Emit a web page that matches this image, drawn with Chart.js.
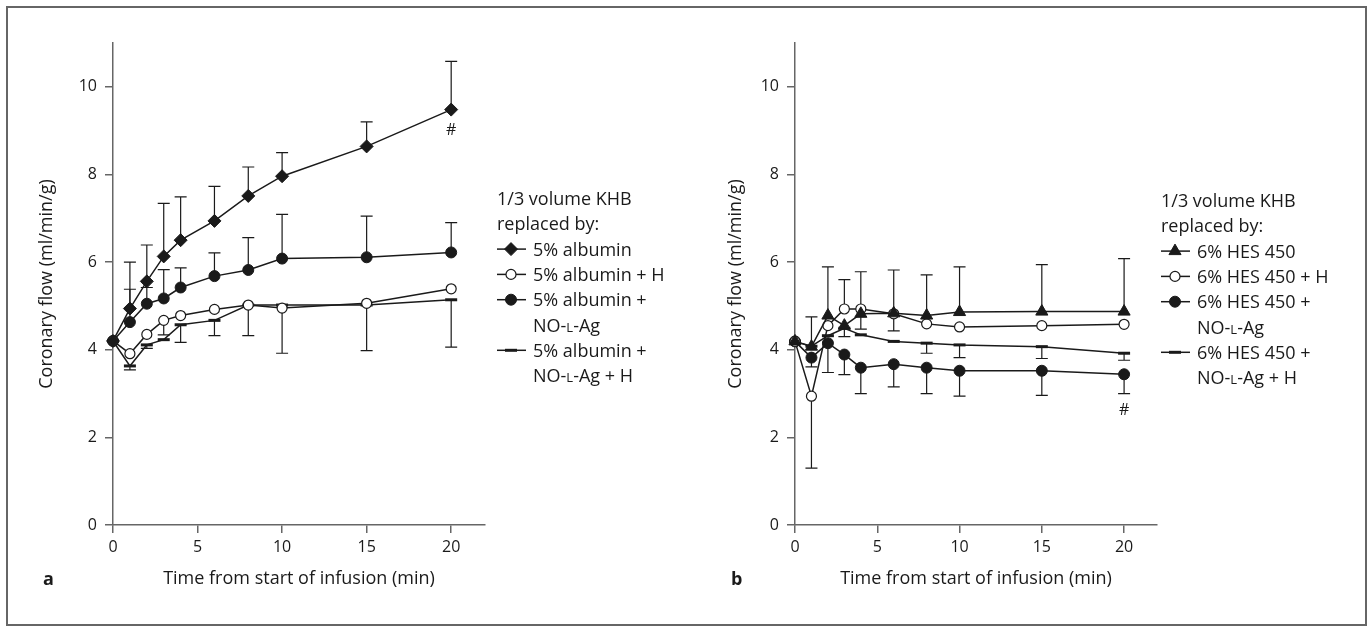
<!DOCTYPE html>
<html>
<head>
<meta charset="utf-8">
<script src="https://cdn.jsdelivr.net/npm/chart.js"></script>
<style>
  html, body { margin: 0; padding: 0; background: #fff; }
  #page { position: relative; width: 1367px; height: 626px; overflow: hidden; }
  #frame { position: absolute; left: 6px; top: 6px; width: 1361px; height: 620px; border: 2px solid #666; box-sizing: border-box; }
  .panel { position: absolute; top: 0; height: 626px; }
  #wrapA { left: 0; width: 690px; }
  #wrapB { left: 683px; width: 684px; }
</style>
</head>
<body>
<div id="page">
  <div id="frame"></div>
  <div class="panel" id="wrapA"><canvas id="chartA"></canvas></div>
  <div class="panel" id="wrapB"><canvas id="chartB"></canvas></div>
</div>
<script>
// x values (minutes) and axis ticks
const minutes = [0, 1, 2, 3, 4, 6, 8, 10, 15, 20];
const xTicks = [0, 5, 10, 15, 20];
const yTicks = [0, 2, 4, 6, 8, 10];

// Panel a: albumin groups (mean and end of the error bar)
const albumin      = [4.2, 4.94, 5.56, 6.13, 6.50, 6.94, 7.51, 7.96, 8.64, 9.48];
const albuminUp    = [null, 6.0, 6.39, 7.34, 7.49, 7.73, 8.17, 8.50, 9.20, 10.58];
const albuminH     = [4.2, 3.91, 4.35, 4.67, 4.78, 4.92, 5.02, 4.95, 5.06, 5.39];
const albuminHLow  = [null, null, null, 4.34, null, null, null, null, null, null];
const albuminNO    = [4.2, 4.63, 5.05, 5.17, 5.42, 5.68, 5.82, 6.08, 6.11, 6.22];
const albuminNOUp  = [null, 5.38, 5.42, 5.83, 5.87, 6.21, 6.56, 7.09, 7.05, 6.90];
const albuminNOH   = [4.2, 3.63, 4.11, 4.23, 4.57, 4.67, 5.02, 5.02, 5.02, 5.14];
const albuminNOHLow = [null, 3.54, 4.03, null, 4.17, 4.32, 4.32, 3.92, 3.98, 4.06];

// Panel b: HES 450 groups
const hes        = [4.19, 4.07, 4.78, 4.55, 4.82, 4.83, 4.78, 4.86, 4.87, 4.87];
const hesUp      = [null, 4.75, 5.89, null, 5.78, 5.82, 5.71, 5.89, 5.94, 6.08];
const hesH       = [4.19, 2.94, 4.55, 4.93, 4.93, 4.82, 4.59, 4.52, 4.55, 4.58];
const hesHUp     = [null, null, null, 5.60, null, null, null, null, null, null];
const hesHLow    = [null, 1.30, null, null, 4.47, 4.43, null, null, null, null];
const hesNO      = [4.19, 3.82, 4.15, 3.89, 3.59, 3.67, 3.59, 3.52, 3.52, 3.44];
const hesNOLow   = [null, 3.61, 3.48, 3.43, 3.00, 3.15, 3.00, 2.94, 2.96, 3.00];
const hesNOH     = [4.19, 4.08, 4.32, 4.49, 4.34, 4.19, 4.15, 4.11, 4.07, 3.92];
const hesNOHLow  = [null, null, null, 4.30, null, null, 3.92, 3.82, 3.80, 3.76];

// Legend texts ({..} = small caps)
const legendTitle = ["1/3 volume KHB", "replaced by:"];
const legendA = [["5% albumin"], ["5% albumin + H"], ["5% albumin +", "NO-{L}-Ag"], ["5% albumin +", "NO-{L}-Ag + H"]];
const legendB = [["6% HES 450"], ["6% HES 450 + H"], ["6% HES 450 +", "NO-{L}-Ag"], ["6% HES 450 +", "NO-{L}-Ag + H"]];

const INK = "#1a1a1a";
const AXIS = "#666";
const FONT = "'Open Sans', 'DejaVu Sans', sans-serif";

const styles = {
  diamond:  { pointStyle: "rectRot", pointRadius: 6.5, pointBackgroundColor: INK, pointBorderColor: INK, pointBorderWidth: 1 },
  open:     { pointStyle: "circle", pointRadius: 5, pointBackgroundColor: "#fff", pointBorderColor: INK, pointBorderWidth: 1.2 },
  filled:   { pointStyle: "circle", pointRadius: 5.5, pointBackgroundColor: INK, pointBorderColor: INK, pointBorderWidth: 1 },
  dash:     { pointStyle: "line", pointRadius: 6, pointBackgroundColor: INK, pointBorderColor: INK, pointBorderWidth: 3 },
  triangle: { pointStyle: "triangle", pointRadius: 7, pointBackgroundColor: INK, pointBorderColor: INK, pointBorderWidth: 1 },
};

function series(values, style, up, low) {
  return Object.assign({
    data: values.map((v, i) => ({ x: minutes[i], y: v })),
    borderColor: INK,
    borderWidth: 1.5,
    tension: 0,
    fill: false,
    clip: false,
    errUp: up || null,
    errLow: low || null,
  }, styles[style]);
}

// Draws the vertical error bars with caps, behind the markers
const errorBars = {
  id: "errorBars",
  beforeDatasetsDraw(chart) {
    const { ctx, scales: { x, y } } = chart;
    ctx.save();
    ctx.strokeStyle = INK;
    ctx.lineWidth = 1.2;
    chart.data.datasets.forEach((ds) => {
      [ds.errUp, ds.errLow].forEach((ends) => {
        if (!ends) return;
        ends.forEach((end, i) => {
          if (end == null) return;
          const px = x.getPixelForValue(minutes[i]);
          const p0 = y.getPixelForValue(ds.data[i].y);
          const p1 = y.getPixelForValue(end);
          ctx.beginPath();
          ctx.moveTo(px, p0);
          ctx.lineTo(px, p1);
          ctx.moveTo(px - 6, p1);
          ctx.lineTo(px + 6, p1);
          ctx.stroke();
        });
      });
    });
    ctx.restore();
  }
};

// text with small caps parts written as {L}
function drawRich(ctx, text, x, y) {
  const parts = text.split(/(\{[^}]*\})/);
  parts.forEach((p) => {
    if (!p) return;
    let t = p;
    if (p[0] === "{") {
      t = p.slice(1, -1).toUpperCase();
      ctx.font = "13px " + FONT;
    } else {
      ctx.font = "18px " + FONT;
    }
    ctx.fillText(t, x, y);
    x += ctx.measureText(t).width;
  });
}

function sideLegend(cfg) {
  return {
    id: "sideLegend",
    afterDraw(chart) {
      const ctx = chart.ctx;
      ctx.save();
      ctx.fillStyle = INK;
      ctx.textBaseline = "alphabetic";
      ctx.textAlign = "left";
      let row = 0;
      legendTitle.forEach((t) => {
        drawRich(ctx, t, cfg.x, cfg.top + row * cfg.step);
        row++;
      });
      cfg.labels.forEach((lines, di) => {
        const ds = chart.data.datasets[di];
        const base = cfg.top + row * cfg.step;
        const cy = base - 6.5;
        ctx.strokeStyle = INK;
        ctx.lineWidth = 1.5;
        ctx.beginPath();
        ctx.moveTo(cfg.x, cy);
        ctx.lineTo(cfg.x + 29, cy);
        ctx.stroke();
        ctx.fillStyle = ds.pointBackgroundColor;
        ctx.strokeStyle = ds.pointBorderColor;
        ctx.lineWidth = ds.pointBorderWidth;
        if (Chart.helpers && Chart.helpers.drawPoint) {
          Chart.helpers.drawPoint(ctx, { pointStyle: ds.pointStyle, radius: ds.pointRadius, borderWidth: ds.pointBorderWidth, rotation: 0 }, cfg.x + 14, cy);
        }
        ctx.fillStyle = INK;
        lines.forEach((t) => {
          drawRich(ctx, t, cfg.x + 36, cfg.top + row * cfg.step);
          row++;
        });
      });
      // panel letter
      ctx.font = "bold 18px " + FONT;
      ctx.textBaseline = "middle";
      ctx.fillText(cfg.letter, cfg.letterX, 580);
      // significance mark
      ctx.font = "16px " + FONT;
      ctx.textAlign = "center";
      ctx.fillText("#", chart.scales.x.getPixelForValue(cfg.hashAt[0]), chart.scales.y.getPixelForValue(cfg.hashAt[1]));
      ctx.restore();
    }
  };
}

function makeChart(id, datasets, o) {
  return new Chart(document.getElementById(id), {
    type: "line",
    data: { datasets: datasets },
    plugins: [errorBars, sideLegend(o.legend)],
    options: {
      responsive: true,
      maintainAspectRatio: false,
      animation: false,
      events: [],
      layout: { padding: { left: 0, top: 43, right: o.padRight, bottom: 0 } },
      plugins: { legend: { display: false }, tooltip: { enabled: false } },
      scales: {
        x: {
          type: "linear",
          min: 0,
          max: 22,
          afterBuildTicks: (s) => { s.ticks = xTicks.map((v) => ({ value: v })); },
          afterFit: (s) => { s.height = 101; },
          ticks: { autoSkip: false, maxRotation: 0, padding: 5, color: INK, font: { family: FONT, size: 16 } },
          grid: { drawOnChartArea: false, drawTicks: true, tickLength: 8, color: AXIS, lineWidth: 1.5 },
          border: { display: true, color: AXIS, width: 1.5 },
          title: { display: true, text: "Time from start of infusion (min)", color: INK, font: { family: FONT, size: 18 }, padding: { top: 0, bottom: 36 } },
        },
        y: {
          min: 0,
          max: 11,
          afterBuildTicks: (s) => { s.ticks = yTicks.map((v) => ({ value: v })); },
          afterFit: (s) => { s.width = o.axisLeft; },
          ticks: { padding: 8, color: INK, font: { family: FONT, size: 16 } },
          grid: { drawOnChartArea: false, drawTicks: true, tickLength: 8, color: AXIS, lineWidth: 1.5 },
          border: { display: true, color: AXIS, width: 1.5 },
          title: { display: true, text: "Coronary flow (ml/min/g)", color: INK, font: { family: FONT, size: 18 }, padding: { top: o.yTitlePad, bottom: 0 } },
        },
      },
    },
  });
}

makeChart("chartA", [
  series(albumin, "diamond", albuminUp),
  series(albuminH, "open", null, albuminHLow),
  series(albuminNO, "filled", albuminNOUp),
  series(albuminNOH, "dash", null, albuminNOHLow),
], {
  padRight: 205, axisLeft: 113, yTitlePad: 36,
  legend: { x: 497, top: 205, step: 25.3, labels: legendA, letter: "a", letterX: 43, hashAt: [20, 9.0] },
});

makeChart("chartB", [
  series(hes, "triangle", hesUp),
  series(hesH, "open", hesHUp, hesHLow),
  series(hesNO, "filled", null, hesNOLow),
  series(hesNOH, "dash", null, hesNOHLow),
], {
  padRight: 210, axisLeft: 112, yTitlePad: 42,
  legend: { x: 478, top: 207, step: 25.3, labels: legendB, letter: "b", letterX: 48, hashAt: [20, 2.61] },
});
</script>
</body>
</html>
